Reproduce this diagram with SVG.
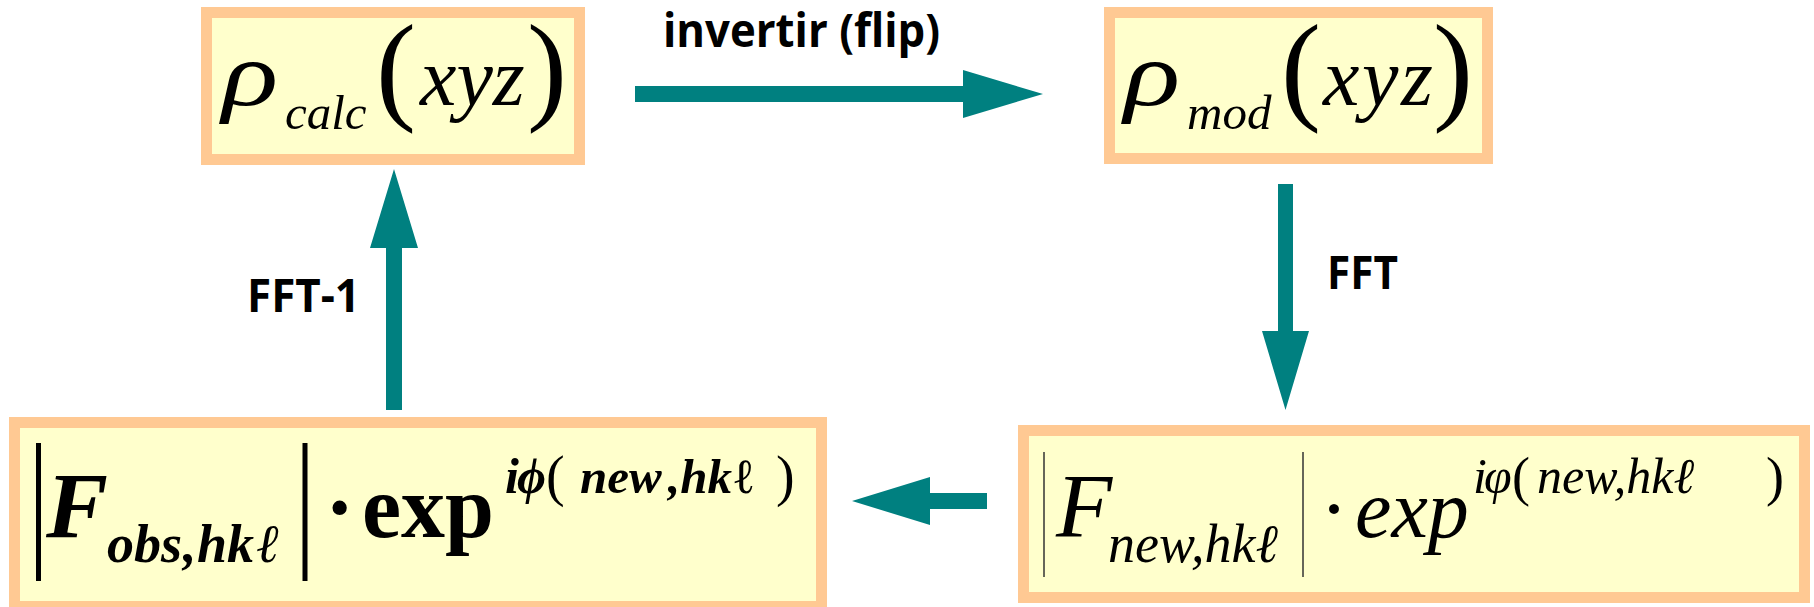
<svg xmlns="http://www.w3.org/2000/svg" width="1814" height="607" viewBox="0 0 1814 607">
<defs>
<style>
.box{fill:#FFFFCC;stroke:#FFC993;stroke-width:11}
.arr{fill:#008080}
.lbl{font-family:"Open Sans","Liberation Sans",sans-serif;font-weight:bold;font-size:46px;fill:#000}
.m{font-family:"Liberation Serif","Times New Roman",serif;fill:#000}
.i{font-style:italic}
.b{font-weight:bold}
.n{font-style:normal;font-weight:normal}
</style>
</defs>
<rect width="1814" height="607" fill="#fff"/>
<g id="connectors">
<path class="arr" d="M635,86 H963 V70 L1043,94 L963,118 V102 H635 Z"/>
<path class="arr" d="M1278,184 V331 H1262 L1285.5,410 L1309,331 H1293 V184 Z"/>
<path class="arr" d="M987,493 H930 V477 L852,501 L930,525 V509 H987 Z"/>
<path class="arr" d="M386,410 V248 H370 L394,169 L418,248 H402 V410 Z"/>
<text class="lbl" x="663" y="47" textLength="277" lengthAdjust="spacingAndGlyphs">invertir (flip)</text>
<text class="lbl" x="1327" y="289" textLength="71" lengthAdjust="spacingAndGlyphs">FFT</text>
<text class="lbl" x="247" y="312" textLength="113" lengthAdjust="spacingAndGlyphs">FFT-1</text>
</g>
<g id="node-rho-calc">
<rect class="box" x="206.5" y="12.5" width="373" height="147"/>
<text class="m i" transform="translate(222,105) scale(1.3,1)" font-size="90">ρ</text>
<text class="m i" x="285" y="129" font-size="49">calc</text>
<text class="m" x="376" y="108" font-size="120">(</text>
<text class="m i" x="420" y="105" font-size="82">xyz</text>
<text class="m" x="527" y="108" font-size="120">)</text>
</g>
<g id="node-rho-mod">
<rect class="box" x="1109.5" y="12.5" width="378" height="146"/>
<text class="m i" transform="translate(1124,105) scale(1.3,1)" font-size="90">ρ</text>
<text class="m i" x="1187" y="129" font-size="49">mod</text>
<text class="m" x="1281" y="108" font-size="120">(</text>
<text class="m i" x="1323" y="105" font-size="82" textLength="110">xyz</text>
<text class="m" x="1433" y="108" font-size="120">)</text>
</g>
<g id="node-F-obs">
<rect class="box" x="14.5" y="422.5" width="807" height="184"/>
<line x1="38.5" y1="443" x2="38.5" y2="581" stroke="#000" stroke-width="5"/>
<line x1="305" y1="443" x2="305" y2="581" stroke="#000" stroke-width="5"/>
<text class="m i b" x="46" y="537" font-size="93">F</text>
<text class="m i b" x="107" y="562" font-size="54">obs</text>
<text class="m i b" x="183" y="562" font-size="54">,</text>
<text class="m i b" x="197" y="562" font-size="54">hk</text>
<text class="m i" x="256" y="562" font-size="54">ℓ</text>
<text class="m b" x="325" y="537" font-size="88">·</text>
<text class="m b" x="362" y="537" font-size="88">exp</text>
<text class="m i b" x="505" y="493" font-size="50">i</text>
<text class="m i b" x="517" y="493" font-size="50">ϕ</text>
<text class="m" x="546" y="495" font-size="56">(</text>
<text class="m i b" x="580" y="493" font-size="49">new<tspan dx="8">,hk</tspan><tspan class="n i">ℓ</tspan></text>
<text class="m" x="776" y="495" font-size="56">)</text>
</g>
<g id="node-F-new">
<rect class="box" x="1023.5" y="430.5" width="781" height="167"/>
<line x1="1044" y1="452" x2="1044" y2="577" stroke="#333" stroke-width="1.5"/>
<line x1="1303" y1="452" x2="1303" y2="577" stroke="#333" stroke-width="1.5"/>
<text class="m i" x="1056" y="537" font-size="92">F</text>
<text class="m i" x="1108" y="562" font-size="54">new,hkℓ</text>
<text class="m" x="1320" y="537" font-size="84">·</text>
<text class="m i" x="1355" y="537" font-size="82">exp</text>
<text class="m i" x="1473" y="493" font-size="50">i</text>
<text class="m i" x="1484" y="493" font-size="50">φ</text>
<text class="m" x="1512" y="495" font-size="54">(</text>
<text class="m i" x="1537" y="493" font-size="50">new,hkℓ</text>
<text class="m" x="1766" y="495" font-size="54">)</text>
</g>
</svg>
